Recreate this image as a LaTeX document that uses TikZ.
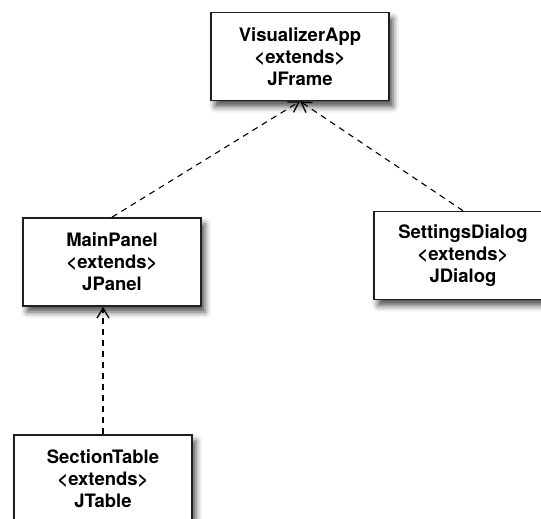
\documentclass[tikz,border=0pt]{standalone}
\usepackage{fontspec}
\setmainfont{TeX Gyre Heros}
\usetikzlibrary{arrows.meta,shadows.blur}

\tikzset{
  classbox/.style={
    draw=black!88, line width=1.6pt, fill=white,
    rectangle, minimum width=178pt, minimum height=88pt, inner sep=0pt,
    align=center, font=\fontsize{18.5}{22}\selectfont\bfseries,
    blur shadow={shadow xshift=4pt, shadow yshift=-6pt,
                 shadow blur radius=6pt, shadow opacity=70}
  },
  inherits/.style={
    draw=black, line width=1.1pt, dash pattern=on 6pt off 5pt,
    -{Straight Barb[length=10pt,width=12pt,line width=1.3pt]}
  }
}

\begin{document}
\begin{tikzpicture}[x=1pt, y=-1pt]
  \useasboundingbox (0,0) rectangle (541,519);
  \clip (0,0) rectangle (541,519);

  \node[classbox] (app)      at (300,56.5) {VisualizerApp\\<extends>\\JFrame};
  \node[classbox] (main)     at (112,262)  {MainPanel\\<extends>\\JPanel};
  \node[classbox] (settings) at (463,255.5){SettingsDialog\\<extends>\\JDialog};
  \node[classbox] (table)    at (103,479)  {SectionTable\\<extends>\\JTable};

  \draw[inherits] (main.north) -- (app.south);
  \draw[inherits] (settings.north) -- (app.south);
  \draw[inherits] (table.north) -- (table.north |- main.south);
\end{tikzpicture}
\end{document}
